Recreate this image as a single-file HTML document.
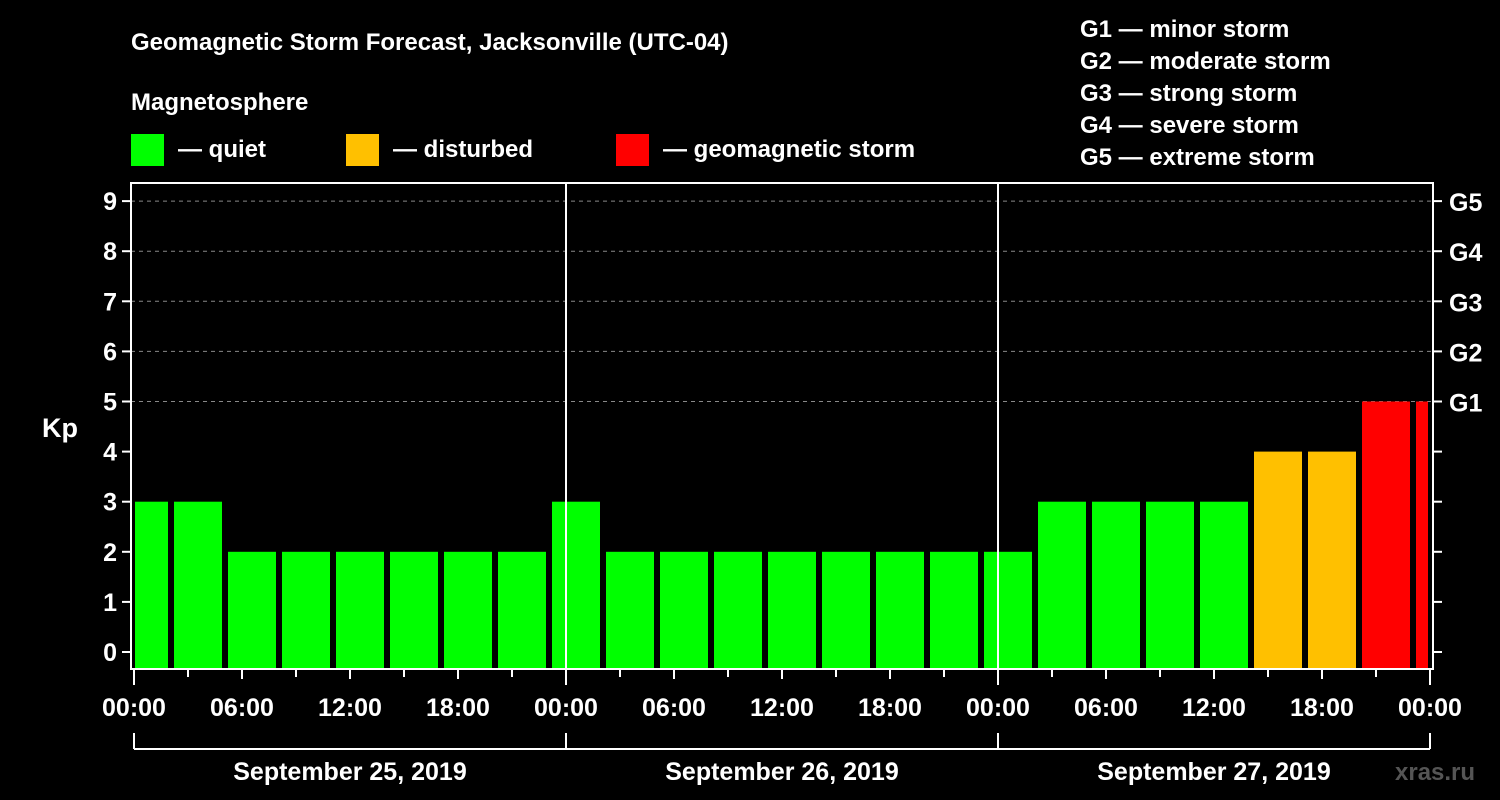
<!DOCTYPE html>
<html><head><meta charset="utf-8"><style>
html,body{margin:0;padding:0;background:#000;}
svg{display:block;font-family:"Liberation Sans",Arial,sans-serif;font-weight:bold;}
</style></head><body>
<svg id="chart" width="1500" height="800" viewBox="0 0 1500 800">
<rect width="1500" height="800" fill="#000"/>
<text x="131" y="50" fill="#fff" font-size="24">Geomagnetic Storm Forecast, Jacksonville (UTC-04)</text>
<text x="131" y="110" fill="#fff" font-size="24">Magnetosphere</text>
<g><rect x="131" y="134" width="33" height="32" fill="#00ff00"/><text x="178" y="157" fill="#fff" font-size="24">— quiet</text></g>
<g><rect x="346" y="134" width="33" height="32" fill="#ffc000"/><text x="393" y="157" fill="#fff" font-size="24">— disturbed</text></g>
<g><rect x="616" y="134" width="33" height="32" fill="#ff0000"/><text x="663" y="157" fill="#fff" font-size="24">— geomagnetic storm</text></g>
<g fill="#fff" font-size="24">
<text x="1080" y="37">G1 — minor storm</text>
<text x="1080" y="69">G2 — moderate storm</text>
<text x="1080" y="101">G3 — strong storm</text>
<text x="1080" y="133">G4 — severe storm</text>
<text x="1080" y="165">G5 — extreme storm</text>
</g>
<text x="42" y="437" fill="#fff" font-size="27">Kp</text>
<text x="1395" y="780" fill="#555" font-size="24">xras.ru</text>
<g id="plot"></g>
</svg>
<script>
const kpValues=[3,3,2,2,2,2,2,2,3,2,2,2,2,2,2,2,2,3,3,3,3,4,4,5,5];
const startHours=[-1,2,5,8,11,14,17,20,23,26,29,32,35,38,41,44,47,50,53,56,59,62,65,68,71];
const yTicks=[0,1,2,3,4,5,6,7,8,9];
const gLabels=["G1","G2","G3","G4","G5"];
const dayLabels=["September 25, 2019","September 26, 2019","September 27, 2019"];
const timeLabels=["00:00","06:00","12:00","18:00"];
const NS="http://www.w3.org/2000/svg";
const g=document.getElementById('plot');
const X0=134,PXH=18,L=131,R=1433,T=183,B=669;
const xs=h=>X0+h*PXH;
const ys=k=>652-k*50.1;
function mk(tag,a,parent){const e=document.createElementNS(NS,tag);for(const k in a)e.setAttribute(k,a[k]);(parent||g).appendChild(e);return e;}
// gridlines
for(const k of [5,6,7,8,9]){const l=mk('line',{x1:L,x2:R,y1:ys(k),y2:ys(k),stroke:'#888','stroke-dasharray':'4,4','stroke-width':1});

}
// bars
kpValues.forEach((v,i)=>{let x1=xs(startHours[i])+4,x2=x1+48;x1=Math.max(x1,135);x2=Math.min(x2,1428);
const c=v>=5?'#ff0000':(v>=4?'#ffc000':'#00ff00');
const r=mk('rect',{x:x1,y:ys(v),width:x2-x1,height:668-ys(v),fill:c});

});
// day separators
for(const d of [1,2]){const l=mk('line',{x1:xs(24*d),x2:xs(24*d),y1:T,y2:B,stroke:'#fff','stroke-width':2});

}
// frame
const f=mk('rect',{x:L,y:T,width:R-L,height:B-T,fill:'none',stroke:'#fff','stroke-width':2});


// y ticks
yTicks.forEach(k=>{mk('line',{x1:L-9,x2:L,y1:ys(k),y2:ys(k),stroke:'#fff','stroke-width':2});
mk('line',{x1:R,x2:R+9,y1:ys(k),y2:ys(k),stroke:'#fff','stroke-width':2});
const t=mk('text',{x:L-14,y:ys(k)+9,fill:'#fff','font-size':25,'text-anchor':'end'});t.textContent=k;

});
gLabels.forEach((s,i)=>{const t=mk('text',{x:R+16,y:ys(5+i)+10,fill:'#fff','font-size':25});t.textContent=s;

});
// x ticks
for(let h=0;h<=72;h+=3){const len=h%24==0?16:(h%6==0?10:8);
mk('line',{x1:xs(h),x2:xs(h),y1:B,y2:B+len,stroke:'#fff','stroke-width':2});}
for(let h=0;h<=72;h+=6){const t=mk('text',{x:xs(h),y:716,fill:'#fff','font-size':25,'text-anchor':'middle'});t.textContent=timeLabels[(h/6)%4];

}
// day bracket
mk('line',{x1:xs(0),x2:xs(72),y1:749,y2:749,stroke:'#fff','stroke-width':2});
for(let d=0;d<=3;d++)mk('line',{x1:xs(24*d),x2:xs(24*d),y1:733,y2:749,stroke:'#fff','stroke-width':2});
dayLabels.forEach((s,i)=>{const t=mk('text',{x:xs(24*i+12),y:780,fill:'#fff','font-size':25,'text-anchor':'middle'});t.textContent=s;

});
</script>
</body></html>
